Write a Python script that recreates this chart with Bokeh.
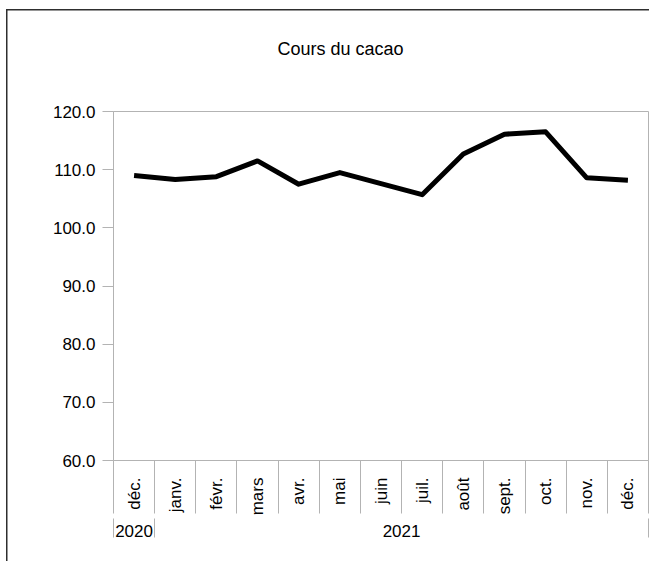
import math
from bokeh.plotting import figure
from bokeh.models import (Range1d, FixedTicker, LinearAxis, Title,
                          PrintfTickFormatter)
from bokeh.embed import file_html
from bokeh.resources import INLINE

# ---- data ----
months = ["déc.", "janv.", "févr.", "mars", "avr.", "mai", "juin",
          "juil.", "août", "sept.", "oct.", "nov.", "déc."]
years = ["2020", "2021"]
year_counts = [1, 12]
values = [109.0, 108.3, 108.8, 111.5, 107.5, 109.5, 107.6,
          105.7, 112.7, 116.1, 116.5, 108.6, 108.2]
y_ticks = [60, 70, 80, 90, 100, 110, 120]
title_text = "Cours du cacao"

FONT = "Liberation Sans"
GRID = "#b3b3b3"

W, H = 649, 561
FL, FT, FB = 113, 111, 460          # frame left / top / bottom (canvas px)
n = len(months)
xs = list(range(n))

p = figure(width=W, height=H, output_backend="svg", toolbar_location=None,
           title=None,
           x_range=Range1d(-0.5, n - 0.5), y_range=Range1d(60, 120),
           x_axis_type=None, y_axis_type=None,
           min_border_left=FL, min_border_right=1,
           min_border_top=FT, min_border_bottom=H - FB)
p.outline_line_color = GRID
p.outline_line_width = 1
p.background_fill_color = "white"
p.border_fill_color = None
# chart-area border (left and top edges), drawn behind the transparent canvas border
p.styles = {"background-color": "white",
            "box-shadow": "inset 6px 9px 0 0 #ffffff, inset 7.5px 10.5px 0 0 #2e2e2e"}

# spacer between plot frame and title, then the title itself
p.add_layout(Title(text=" ", text_font=FONT, text_font_size="10px", standoff=40), "above")
p.add_layout(Title(text=title_text, align="left", offset=277 - FL, standoff=0,
                   text_font=FONT, text_font_size="18px",
                   text_font_style="normal", text_color="black"), "above")

# y axis
yax = LinearAxis(ticker=FixedTicker(ticks=y_ticks),
                 formatter=PrintfTickFormatter(format="%.1f"))
yax.axis_line_color = GRID
yax.major_tick_line_color = GRID
yax.major_tick_out = 11
yax.major_tick_in = 0
yax.minor_tick_line_color = None
yax.major_label_standoff = 7
yax.major_label_text_font = FONT
yax.major_label_text_font_size = "17px"
yax.major_label_text_color = "black"
p.add_layout(yax, "left")

# month axis (separators = minor ticks at category bounds)
bounds = [i - 0.5 for i in range(n + 1)]
xax = LinearAxis(ticker=FixedTicker(ticks=xs, minor_ticks=bounds))
xax.major_label_overrides = {i: m for i, m in enumerate(months)}
xax.major_label_orientation = math.pi / 2
xax.axis_line_color = GRID
xax.major_tick_line_color = None
xax.major_tick_out = 0
xax.major_tick_in = 0
xax.minor_tick_line_color = GRID
xax.minor_tick_out = 53
xax.minor_tick_in = 0
xax.major_label_standoff = 17 - 53
xax.major_label_text_font = FONT
xax.major_label_text_font_size = "17px"
xax.major_label_text_color = "black"
p.add_layout(xax, "below")

# year axis
year_centers = []
year_bounds = [-0.5]
start = 0
for c in year_counts:
    year_centers.append(start + (c - 1) / 2)
    start += c
    year_bounds.append(start - 0.5)
yax2 = LinearAxis(ticker=FixedTicker(ticks=year_centers, minor_ticks=year_bounds))
yax2.major_label_overrides = {c: y for c, y in zip(year_centers, years)}
yax2.axis_line_color = None
yax2.major_tick_line_color = None
yax2.major_tick_out = 0
yax2.major_tick_in = 0
yax2.minor_tick_line_color = GRID
yax2.minor_tick_out = 19
yax2.minor_tick_in = 0
yax2.major_label_standoff = 6 - 19
yax2.major_label_text_font = FONT
yax2.major_label_text_font_size = "17px"
yax2.major_label_text_color = "black"
p.add_layout(yax2, "below")

p.ygrid.ticker = FixedTicker(ticks=y_ticks)
p.ygrid.grid_line_color = GRID
p.xgrid.grid_line_color = None

p.line(xs, values, line_color="black", line_width=5, line_join="round")

open("out.html", "w").write(file_html(p, INLINE))
